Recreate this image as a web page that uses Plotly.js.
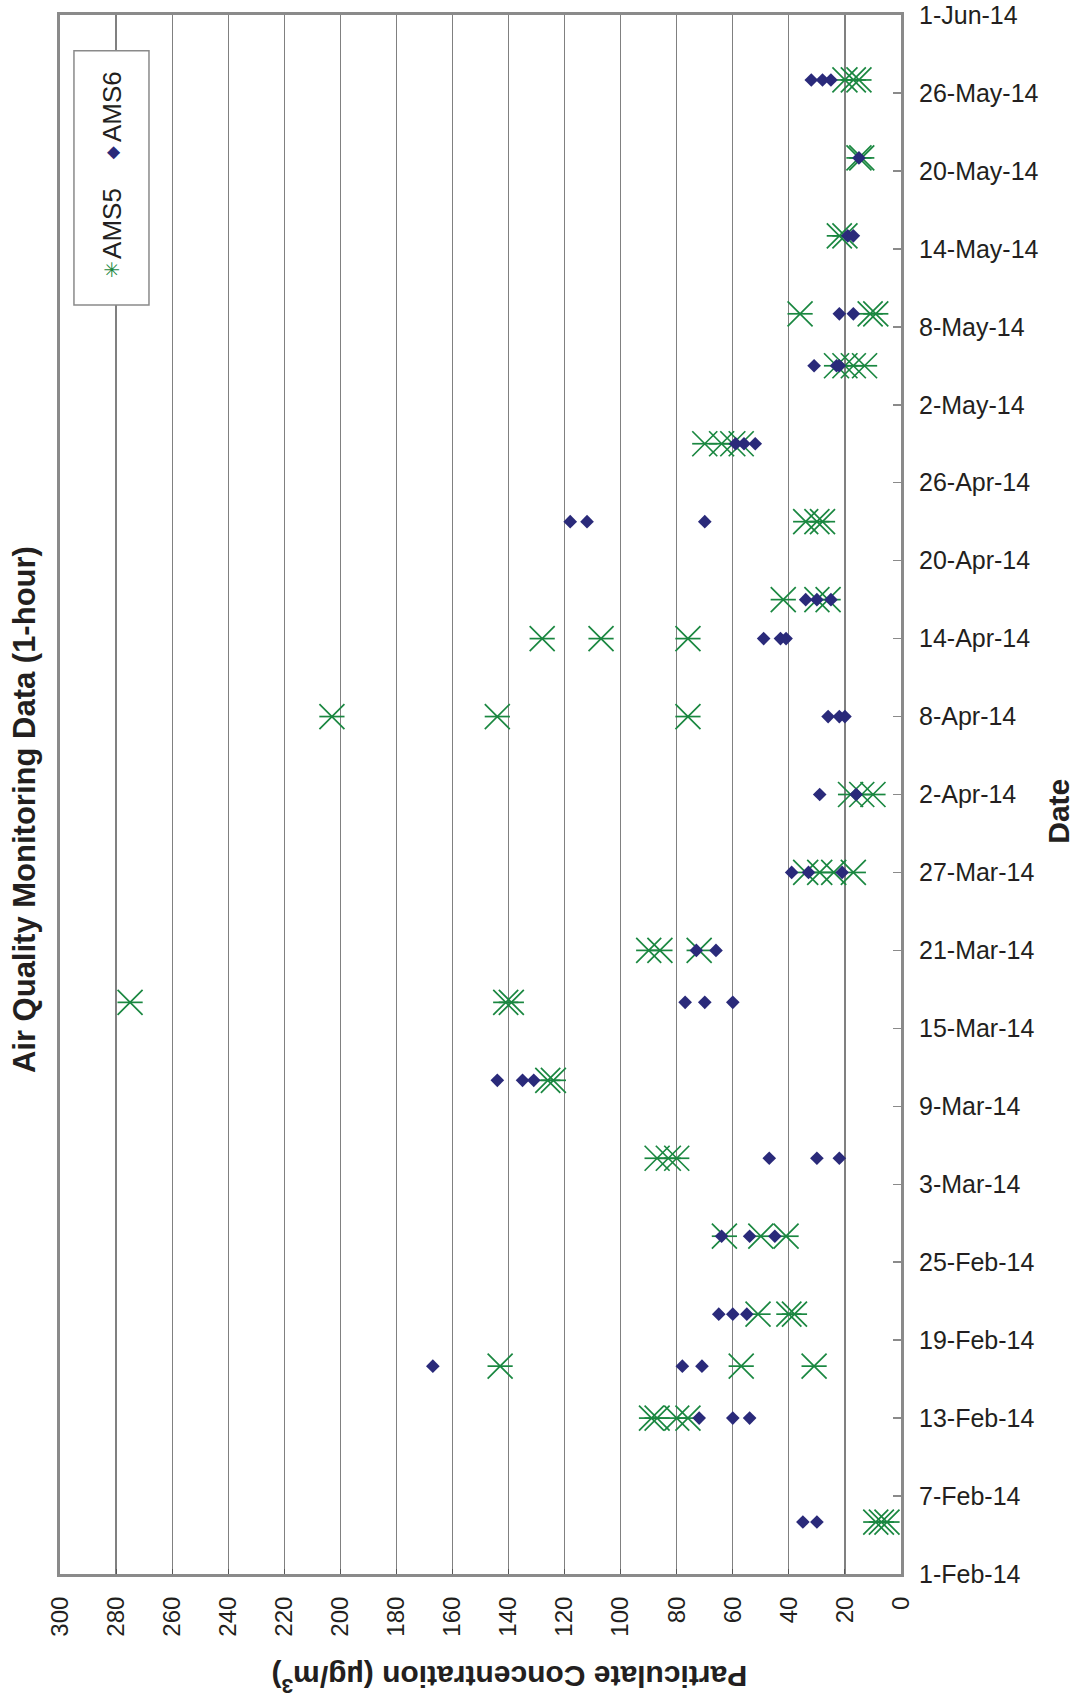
<!DOCTYPE html>
<html>
<head>
<meta charset="utf-8">
<script src="https://cdn.plot.ly/plotly-3.0.1.min.js"></script>
<style>
  html, body { margin: 0; padding: 0; background: #ffffff; }
  #chart { width: 1077px; height: 1706px; }
</style>
</head>
<body>
<div id="chart"></div>
<script>
// ---- data ----
const ams5Dates = [
  '2014-02-05','2014-02-05','2014-02-05',
  '2014-02-13','2014-02-13','2014-02-13','2014-02-13',
  '2014-02-17','2014-02-17','2014-02-17',
  '2014-02-21','2014-02-21','2014-02-21',
  '2014-02-27','2014-02-27','2014-02-27',
  '2014-03-05','2014-03-05','2014-03-05',
  '2014-03-11','2014-03-11',
  '2014-03-17','2014-03-17','2014-03-17',
  '2014-03-21','2014-03-21','2014-03-21',
  '2014-03-27','2014-03-27','2014-03-27','2014-03-27',
  '2014-04-02','2014-04-02','2014-04-02',
  '2014-04-08','2014-04-08','2014-04-08',
  '2014-04-14','2014-04-14','2014-04-14',
  '2014-04-17','2014-04-17','2014-04-17',
  '2014-04-23','2014-04-23','2014-04-23',
  '2014-04-29','2014-04-29','2014-04-29','2014-04-29',
  '2014-05-05','2014-05-05','2014-05-05','2014-05-05',
  '2014-05-09','2014-05-09','2014-05-09',
  '2014-05-15','2014-05-15',
  '2014-05-21','2014-05-21',
  '2014-05-27','2014-05-27','2014-05-27'
];
const ams5Values = [
  9, 7, 5,
  89, 87, 80, 76,
  143, 57, 31,
  51, 40, 38,
  63, 50, 41,
  87, 83, 80,
  126, 124,
  275, 141, 139,
  90, 86, 72,
  34, 29, 24, 17,
  18, 14, 10,
  203, 144, 76,
  128, 107, 76,
  42, 30, 26,
  34, 30, 28,
  70, 64, 60, 57,
  23, 20, 17, 13,
  36, 11, 9,
  22, 20,
  15, 14,
  20, 17, 15
];
const ams6Dates = [
  '2014-02-05','2014-02-05',
  '2014-02-13','2014-02-13','2014-02-13',
  '2014-02-17','2014-02-17','2014-02-17',
  '2014-02-21','2014-02-21','2014-02-21',
  '2014-02-27','2014-02-27','2014-02-27',
  '2014-03-05','2014-03-05','2014-03-05',
  '2014-03-11','2014-03-11','2014-03-11',
  '2014-03-17','2014-03-17','2014-03-17',
  '2014-03-21','2014-03-21',
  '2014-03-27','2014-03-27','2014-03-27',
  '2014-04-02','2014-04-02',
  '2014-04-08','2014-04-08','2014-04-08',
  '2014-04-14','2014-04-14','2014-04-14',
  '2014-04-17','2014-04-17','2014-04-17',
  '2014-04-23','2014-04-23','2014-04-23',
  '2014-04-29','2014-04-29','2014-04-29',
  '2014-05-05','2014-05-05','2014-05-05',
  '2014-05-09','2014-05-09',
  '2014-05-15','2014-05-15',
  '2014-05-21',
  '2014-05-27','2014-05-27','2014-05-27'
];
const ams6Values = [
  35, 30,
  72, 60, 54,
  167, 78, 71,
  65, 60, 55,
  64, 54, 45,
  47, 30, 22,
  144, 135, 131,
  77, 70, 60,
  73, 66,
  39, 33, 21,
  29, 16,
  26, 22, 20,
  49, 43, 41,
  34, 30, 25,
  118, 112, 70,
  59, 56, 52,
  31, 23, 22,
  22, 17,
  19, 17,
  15,
  32, 28, 25
];
const seriesNames = ['AMS5', 'AMS6'];
const seriesColors = ['#1a8740', '#2a2a7a'];
const chartTitle = 'Air Quality Monitoring Data (1-hour)';
const valueAxisTitle = 'Particulate Concentration (µg/m<sup>3</sup>)';
const dateAxisTitle = 'Date';

// ---- traces ----
const FONT = 'Liberation Sans, Arial, Helvetica, sans-serif';
const traces = [
  { // AMS5: X part of the star marker
    type: 'scatter', mode: 'markers', name: seriesNames[0],
    x: ams5Values, y: ams5Dates,
    marker: { symbol: 'x-thin-open', size: 25, color: seriesColors[0],
              line: { color: seriesColors[0], width: 1.7 } },
    showlegend: false
  },
  { // AMS5: bar part of the star marker
    type: 'scatter', mode: 'markers', name: seriesNames[0],
    x: ams5Values, y: ams5Dates,
    marker: { symbol: 'line-ew-open', size: 18, color: seriesColors[0],
              line: { color: seriesColors[0], width: 1.7 } },
    showlegend: false
  },
  { // AMS6
    type: 'scatter', mode: 'markers', name: seriesNames[1],
    x: ams6Values, y: ams6Dates,
    marker: { symbol: 'diamond', size: 10.5, color: seriesColors[1],
              line: { width: 0 } },
    showlegend: false
  }
];

// ---- layout ----
const DAY = 86400000;
function ann(text, x, y, angle, size, color, bold, family) {
  return { text: bold ? '<b>' + text + '</b>' : text,
           xref: 'paper', yref: 'paper', x: x, y: y,
           xanchor: 'center', yanchor: 'middle',
           textangle: angle, showarrow: false,
           font: { family: family || FONT, size: size, color: color } };
}
const layout = {
  width: 1077, height: 1706,
  margin: { l: 60, r: 176, t: 15, b: 132 },
  paper_bgcolor: '#ffffff', plot_bgcolor: '#ffffff',
  font: { family: FONT, color: '#231f20', size: 24 },
  showlegend: false,
  xaxis: {
    range: [300, 0], dtick: 20, tick0: 0,
    tickangle: -90,
    showgrid: true, gridcolor: '#808080', gridwidth: 1.2,
    zeroline: false,
    showline: true, linecolor: '#8a8a8a', linewidth: 3, mirror: true,
    ticks: 'inside', ticklen: 5, tickcolor: '#555555',
    ticklabelstandoff: 10,
    tickfont: { family: FONT, size: 24, color: '#231f20' }
  },
  yaxis: {
    type: 'date', side: 'right',
    range: ['2014-02-01', '2014-06-01'],
    tick0: '2014-02-01', dtick: 6 * DAY,
    tickformat: '%-d-%b-%y',
    showgrid: false, zeroline: false,
    showline: true, linecolor: '#8a8a8a', linewidth: 3, mirror: true,
    ticks: 'inside', ticklen: 8, tickcolor: '#8a8a8a', tickwidth: 1.5,
    ticklabelstandoff: 10,
    tickfont: { family: FONT, size: 25, color: '#231f20' }
  },
  shapes: [
    { type: 'rect', xref: 'paper', yref: 'paper',
      x0: 0.0166, x1: 0.1058, y0: 0.814, y1: 0.977,
      line: { color: '#8a8a8a', width: 1.5 },
      fillcolor: 'rgba(255,255,255,1)', opacity: 1, layer: 'above' }
  ],
  annotations: [
    ann(chartTitle, -0.0428, 0.49, -90, 31, '#231f20', true),
    ann(valueAxisTitle, 0.534, -0.0673, 180, 30, '#231f20', true),
    ann(dateAxisTitle, 1.188, 0.489, -90, 30, '#231f20', true),
    ann(seriesNames[1], 0.0618, 0.9416, -90, 26, '#231f20', false),
    ann('◆', 0.0618, 0.912, -90, 17, seriesColors[1], false, 'DejaVu Sans'),
    ann(seriesNames[0], 0.0618, 0.8666, -90, 26, '#231f20', false),
    ann('✳', 0.0618, 0.837, -90, 20, seriesColors[0], false, 'DejaVu Sans')
  ]
};

Plotly.newPlot('chart', traces, layout, { displayModeBar: false, staticPlot: true });
</script>
</body>
</html>
